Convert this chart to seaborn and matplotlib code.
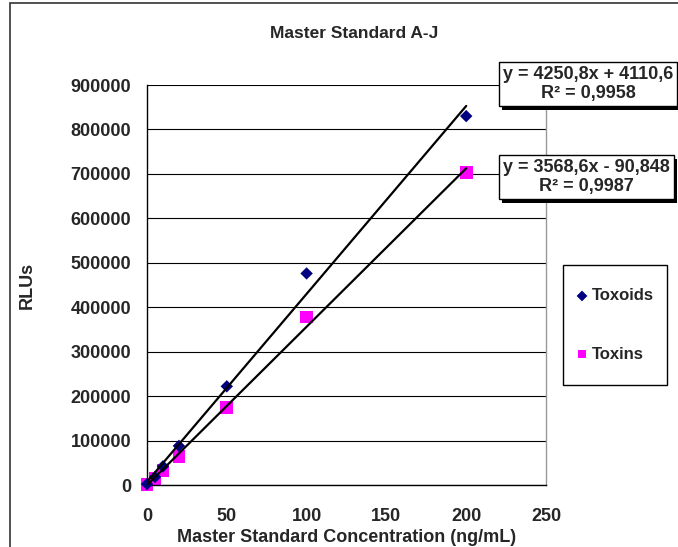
import numpy as np
import pandas as pd
import matplotlib
matplotlib.use("Agg")
import matplotlib.pyplot as plt
import matplotlib.patheffects as pe
from matplotlib.patches import Rectangle
import seaborn as sns

# ---- data ----
concentration = [0, 5, 10, 20, 50, 100, 200]
toxoids = [2000, 18000, 42000, 88000, 222000, 476000, 830000]
toxins = [1000, 15000, 33000, 65000, 175000, 378000, 703000]
series_names = ["Toxoids", "Toxins"]
eq_texts = ["y = 4250,8x + 4110,6\nR² = 0,9958", "y = 3568,6x - 90,848\nR² = 0,9987"]
x_ticks = [0, 50, 100, 150, 200, 250]
y_ticks = [0, 100000, 200000, 300000, 400000, 500000, 600000, 700000, 800000, 900000]
title = "Master Standard A-J"
x_label = "Master Standard Concentration (ng/mL)"
y_label = "RLUs"

sns.set_style("white")
plt.rcParams["font.family"] = ["Liberation Sans", "DejaVu Sans"]

W, H = 678, 547
fig = plt.figure(figsize=(W / 100, H / 100), dpi=100)
ax = fig.add_axes([147 / W, 1 - 485 / H, (546 - 147) / W, (485 - 85) / H])

df = pd.DataFrame({
    "conc": concentration * 2,
    "RLU": toxoids + toxins,
    "series": [series_names[0]] * len(concentration) + [series_names[1]] * len(concentration),
})
palette = {"Toxoids": "#000080", "Toxins": "#FF00FF"}

sns.scatterplot(data=df[df.series == "Toxoids"], x="conc", y="RLU", color=palette["Toxoids"],
                marker="D", s=40, edgecolor="none", ax=ax, zorder=3, label="Toxoids", clip_on=False)
sns.scatterplot(data=df[df.series == "Toxins"], x="conc", y="RLU", color=palette["Toxins"],
                marker="s", s=85, edgecolor="none", ax=ax, zorder=2, label="Toxins", clip_on=False)

sns.regplot(x=np.array(concentration), y=np.array(toxoids), ci=None, scatter=False, ax=ax,
            line_kws=dict(color="black", lw=1.6, zorder=4))
sns.regplot(x=np.array(concentration), y=np.array(toxins), ci=None, scatter=False, ax=ax,
            line_kws=dict(color="black", lw=1.6, zorder=4))

ax.set_xlim(0, 250)
ax.set_ylim(0, 900000)
ax.set_xticks(x_ticks)
ax.set_yticks(y_ticks)
ax.set_xticklabels([str(v) for v in x_ticks], fontsize=13, fontweight="bold")
ax.set_yticklabels([str(v) for v in y_ticks], fontsize=13, fontweight="bold")
ax.tick_params(axis="both", direction="out", length=4.5, width=1, color="black")
ax.tick_params(axis="y", pad=7)
ax.tick_params(axis="x", pad=12)
ax.yaxis.grid(True, color="black", lw=0.8)
ax.set_axisbelow(True)
for s in ["left", "bottom"]:
    ax.spines[s].set_color("black")
    ax.spines[s].set_linewidth(1)
ax.spines["top"].set_visible(False)
ax.spines["right"].set_color("#999999")
ax.spines["right"].set_linewidth(1)

ax.set_xlabel(x_label, fontsize=13, fontweight="bold", labelpad=3)
ax.set_ylabel(y_label, fontsize=13, fontweight="bold")
ax.yaxis.set_label_coords((36 - 147) / (546 - 147), 0.5)
fig.text(354 / W, 1 - 33 / H, title, ha="center", va="center", fontsize=12.5, fontweight="bold")

leg = ax.legend(loc="center", bbox_to_anchor=(613 / W, 1 - 325 / H), bbox_transform=fig.transFigure,
                frameon=False, labelspacing=2.6, handletextpad=0.0, handlelength=1.2,
                prop=dict(weight="bold", size=12))
for h in leg.legend_handles:
    h.set_sizes([30])
fig.add_artist(Rectangle((563 / W, 1 - 385 / H), (667 - 563) / W, 120 / H, transform=fig.transFigure,
                         fill=False, ec="black", lw=1))

shadow = [pe.SimplePatchShadow(offset=(2, -3), shadow_rgbFace="black", alpha=1), pe.Normal()]
for txt, ypix in zip(eq_texts, [84, 177]):
    t = fig.text(503 / W, 1 - ypix / H, txt, ha="left", va="center", fontsize=13,
                 fontweight="bold", multialignment="center", linespacing=1.2,
                 bbox=dict(boxstyle="square,pad=0.22", fc="white", ec="black", lw=1))
    t.get_bbox_patch().set_path_effects(shadow)

fig.add_artist(Rectangle((10 / W, -0.1), 1.2, 1.1 - 3 / H, transform=fig.transFigure,
                         fill=False, ec="#333333", lw=1.2))

fig.savefig("out.png", dpi=100)
